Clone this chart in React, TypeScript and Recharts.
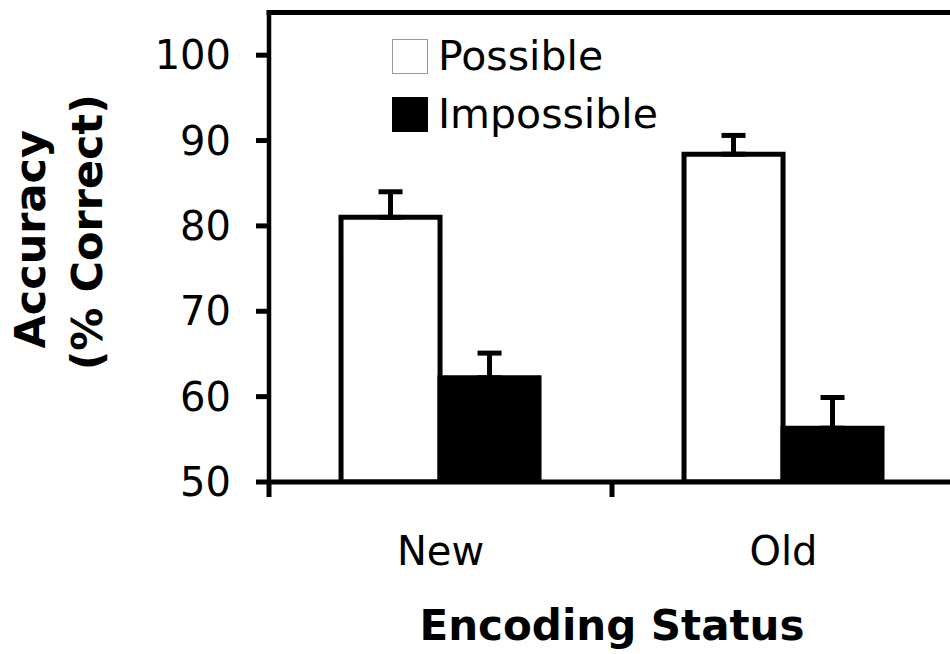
import { Bar, BarChart, ErrorBar, Label, Legend, ReferenceLine, XAxis, YAxis } from 'recharts';

const categories = ['New', 'Old'];
const possible = [81.0, 88.4];
const possibleErr = [3.0, 2.2];
const impossible = [62.2, 56.3];
const impossibleErr = [2.9, 3.6];
const yTicks = [50, 60, 70, 80, 90, 100];

const data = categories.map((name, i) => ({
  name,
  possible: possible[i],
  possibleErr: [0, possibleErr[i]],
  impossible: impossible[i],
  impossibleErr: [0, impossibleErr[i]],
}));

const series = [
  { key: 'possible', name: 'Possible', fill: '#ffffff', border: '#9a9a9a' },
  { key: 'impossible', name: 'Impossible', fill: '#000000', border: '#000000' },
];

const FONT = '"DejaVu Sans", Verdana, sans-serif';

function renderLegend() {
  return (
    <div style={{ fontFamily: FONT, color: '#000' }}>
      {series.map((s) => (
        <div key={s.key} style={{ display: 'flex', alignItems: 'center', height: 58 }}>
          <span
            style={{
              display: 'inline-block',
              width: 36,
              height: 35,
              boxSizing: 'border-box',
              background: s.fill,
              border: `1.5px solid ${s.border}`,
            }}
          />
          <span style={{ marginLeft: 10, fontSize: 41, lineHeight: '58px', whiteSpace: 'nowrap' }}>{s.name}</span>
        </div>
      ))}
    </div>
  );
}

// label in the middle, tick line at the left edge of the category band
function CategoryTick(props: any) {
  const { x, y, payload } = props;
  const half = payload?.offset ?? 0;
  return (
    <g>
      <line x1={x - half} x2={x - half} y1={y} y2={y + 15} stroke="#000" strokeWidth={5} />
      <text x={x} y={y + 83} textAnchor="middle" fontSize={40} fontFamily={FONT} fill="#000">
        {payload.value}
      </text>
    </g>
  );
}

function YTitle(props: any) {
  const vb = props.viewBox;
  const cy = vb.y + vb.height / 2;
  return (
    <g fontFamily={FONT} fontWeight="bold" fontSize={43} fill="#000">
      <text transform={`translate(${vb.x + 45}, ${cy - 8}) rotate(-90)`} textAnchor="middle">
        Accuracy
      </text>
      <text transform={`translate(${vb.x + 102}, ${cy - 15}) rotate(-90)`} textAnchor="middle">
        (% Correct)
      </text>
    </g>
  );
}

function XTitle(props: any) {
  const vb = props.viewBox;
  return (
    <text
      x={vb.x + vb.width / 2}
      y={vb.y + 158}
      textAnchor="middle"
      fontFamily={FONT}
      fontWeight="bold"
      fontSize={42}
      fill="#000"
    >
      Encoding Status
    </text>
  );
}

export default function App() {
  return (
    <div style={{ position: 'absolute', left: 0, top: 0, width: 950, height: 654, overflow: 'hidden', background: '#fff' }}>
      <BarChart
        width={960}
        height={654}
        data={data}
        margin={{ top: 12.5, right: 5, bottom: 0, left: 0 }}
        barCategoryGap="21%"
        barGap={0}
        style={{ fontFamily: FONT }}
      >
        <XAxis
          dataKey="name"
          height={172}
          tickSize={0}
          tickMargin={0}
          tickLine={false}
          axisLine={{ stroke: '#000', strokeWidth: 5 }}
          tick={<CategoryTick />}
        >
          <Label value="Encoding Status" content={<XTitle />} />
        </XAxis>
        <YAxis
          type="number"
          domain={[50, 105]}
          ticks={yTicks}
          allowDataOverflow
          width={269}
          tickSize={13}
          tickMargin={25}
          axisLine={{ stroke: '#000', strokeWidth: 4.5 }}
          tickLine={{ stroke: '#000', strokeWidth: 5 }}
          tick={{ fill: '#000', fontSize: 40, fontFamily: FONT }}
        >
          <Label value="Accuracy" content={<YTitle />} />
        </YAxis>
        <ReferenceLine y={105} stroke="#000" strokeWidth={5} strokeLinecap="square" />
        <Legend
          layout="vertical"
          align="center"
          verticalAlign="middle"
          content={renderLegend}
          wrapperStyle={{ top: 27, left: 392, width: 'auto', height: 'auto' }}
        />
        <Bar dataKey="possible" name="Possible" fill="#ffffff" stroke="#000" strokeWidth={5} isAnimationActive={false}>
          <ErrorBar dataKey="possibleErr" direction="y" width={12} stroke="#000" strokeWidth={5} />
        </Bar>
        <Bar dataKey="impossible" name="Impossible" fill="#000000" stroke="#000" strokeWidth={5} isAnimationActive={false}>
          <ErrorBar dataKey="impossibleErr" direction="y" width={12} stroke="#000" strokeWidth={5} />
        </Bar>
      </BarChart>
    </div>
  );
}
